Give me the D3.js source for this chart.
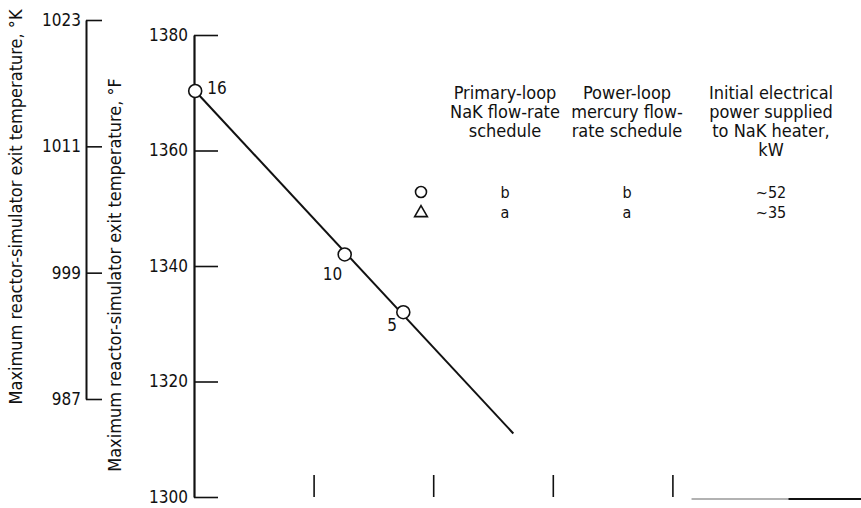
<!DOCTYPE html>
<html>
<head>
<meta charset="utf-8">
<script src="https://cdn.jsdelivr.net/npm/d3@7/dist/d3.min.js"></script>
<style>
  html, body { margin: 0; padding: 0; background: #fff; }
  svg { display: block; }
  text { font-family: "Liberation Sans Narrow", "DejaVu Sans Condensed", "Liberation Sans", sans-serif; fill: #111; }
</style>
</head>
<body>
<svg id="chart" width="861" height="508"></svg>
<script>
// Temperature scales (Fahrenheit main axis, Kelvin companion axis)
const tempTicksF = [1300, 1320, 1340, 1360, 1380];
const tempTicksK = [987, 999, 1011, 1023];
const xTicks = [1, 2, 3, 4];

// Measured points and their run labels
const pointX = [0.01, 1.26, 1.75];
const pointY = [1370.3, 1342.0, 1332.0];
const pointLabels = ["16", "10", "5"];

// Faired line through the data
const fitX = [0.01, 2.67];
const fitY = [1370.3, 1311.0];

// Key table
const legendHeaders = [
  ["Primary-loop", "NaK flow-rate", "schedule"],
  ["Power-loop", "mercury flow-", "rate schedule"],
  ["Initial electrical", "power supplied", "to NaK heater,", "kW"]
];
const legendSymbols = ["circle", "triangle"];
const legendPrimary = ["b", "a"];
const legendPower = ["b", "a"];
const legendKW = ["~52", "~35"];

const svg = d3.select("#chart");

const x = d3.scaleLinear().domain([0, 5]).range([194, 792]);
const yF = d3.scaleLinear().domain([1300, 1380]).range([497, 35]);
const yK = d3.scaleLinear().domain([987, 1023]).range([399, 20]);
const fmt = d3.format("d");

// Main Fahrenheit axis
const axF = svg.append("g").attr("transform", "translate(194,0)")
  .call(d3.axisLeft(yF).tickValues(tempTicksF).tickFormat(fmt)
    .tickSizeInner(-24).tickSizeOuter(0).tickPadding(6));
axF.select(".domain").attr("stroke", "#111").attr("stroke-width", 2.2);
axF.selectAll(".tick line").attr("stroke", "#111").attr("stroke-width", 1.6);
axF.selectAll(".tick text").attr("font-size", 17).attr("font-family", null);

// Kelvin axis
const axK = svg.append("g").attr("transform", "translate(86,0)")
  .call(d3.axisLeft(yK).tickValues(tempTicksK).tickFormat(fmt)
    .tickSizeInner(-16).tickSizeOuter(0).tickPadding(5));
axK.select(".domain").attr("stroke", "#111").attr("stroke-width", 2);
axK.selectAll(".tick line").attr("stroke", "#111").attr("stroke-width", 1.6);
axK.selectAll(".tick text").attr("font-size", 17).attr("font-family", null);

// Bottom ticks (unlabelled)
const axX = svg.append("g").attr("transform", "translate(0,497)")
  .call(d3.axisBottom(x).tickValues(xTicks).tickSizeInner(-22).tickSizeOuter(0).tickFormat(""));
axX.select(".domain").remove();
axX.selectAll(".tick line").attr("stroke", "#111").attr("stroke-width", 1.6);

// Partial baseline at lower right
svg.append("line")
  .attr("x1", x(4.16)).attr("x2", x(4.97)).attr("y1", 499).attr("y2", 499)
  .attr("stroke", "#999").attr("stroke-width", 1.5);
svg.append("line")
  .attr("x1", x(4.97)).attr("x2", x(5.6)).attr("y1", 499).attr("y2", 499)
  .attr("stroke", "#111").attr("stroke-width", 1.8);

// Axis titles
svg.append("text")
  .attr("transform", "translate(22,207) rotate(-90)")
  .attr("text-anchor", "middle").attr("font-size", 18)
  .text("Maximum reactor-simulator exit temperature, \u00B0K");
svg.append("text")
  .attr("transform", "translate(121,275) rotate(-90)")
  .attr("text-anchor", "middle").attr("font-size", 18)
  .text("Maximum reactor-simulator exit temperature, \u00B0F");

// Faired line
svg.append("path")
  .datum(fitX.map((d, i) => [d, fitY[i]]))
  .attr("fill", "none").attr("stroke", "#111").attr("stroke-width", 2)
  .attr("d", d3.line().x(d => x(d[0])).y(d => yF(d[1])));

// Data points
svg.selectAll("circle.pt")
  .data(pointX.map((d, i) => ({ x: d, y: pointY[i] })))
  .join("circle").attr("class", "pt")
  .attr("cx", d => x(d.x)).attr("cy", d => yF(d.y)).attr("r", 6.5)
  .attr("fill", "#fff").attr("stroke", "#111").attr("stroke-width", 1.6);

const labelOffsets = [[12, 3], [-22, 26], [-16, 19]];
svg.selectAll("text.ptlabel")
  .data(pointX.map((d, i) => ({ x: d, y: pointY[i], label: pointLabels[i], o: labelOffsets[i] })))
  .join("text").attr("class", "ptlabel")
  .attr("x", d => x(d.x) + d.o[0]).attr("y", d => yF(d.y) + d.o[1])
  .attr("font-size", 17)
  .text(d => d.label);

// Key table
const colX = [505, 627, 771];
legendHeaders.forEach((lines, c) => {
  lines.forEach((t, r) => {
    svg.append("text")
      .attr("x", colX[c]).attr("y", 99 + r * 19)
      .attr("text-anchor", "middle").attr("font-size", 18)
      .text(t);
  });
});

const rowY = [192, 212];
legendSymbols.forEach((s, i) => {
  if (s === "circle") {
    svg.append("circle").attr("cx", 421).attr("cy", rowY[i]).attr("r", 5.5)
      .attr("fill", "#fff").attr("stroke", "#111").attr("stroke-width", 1.6);
  } else {
    svg.append("path")
      .attr("d", d3.symbol().type(d3.symbolTriangle).size(70)())
      .attr("transform", `translate(421,${rowY[i] + 1})`)
      .attr("fill", "#fff").attr("stroke", "#111").attr("stroke-width", 1.6);
  }
  [legendPrimary[i], legendPower[i], legendKW[i]].forEach((t, c) => {
    svg.append("text")
      .attr("x", colX[c]).attr("y", rowY[i] + 6)
      .attr("text-anchor", "middle").attr("font-size", 16)
      .text(t);
  });
});
</script>
</body>
</html>
